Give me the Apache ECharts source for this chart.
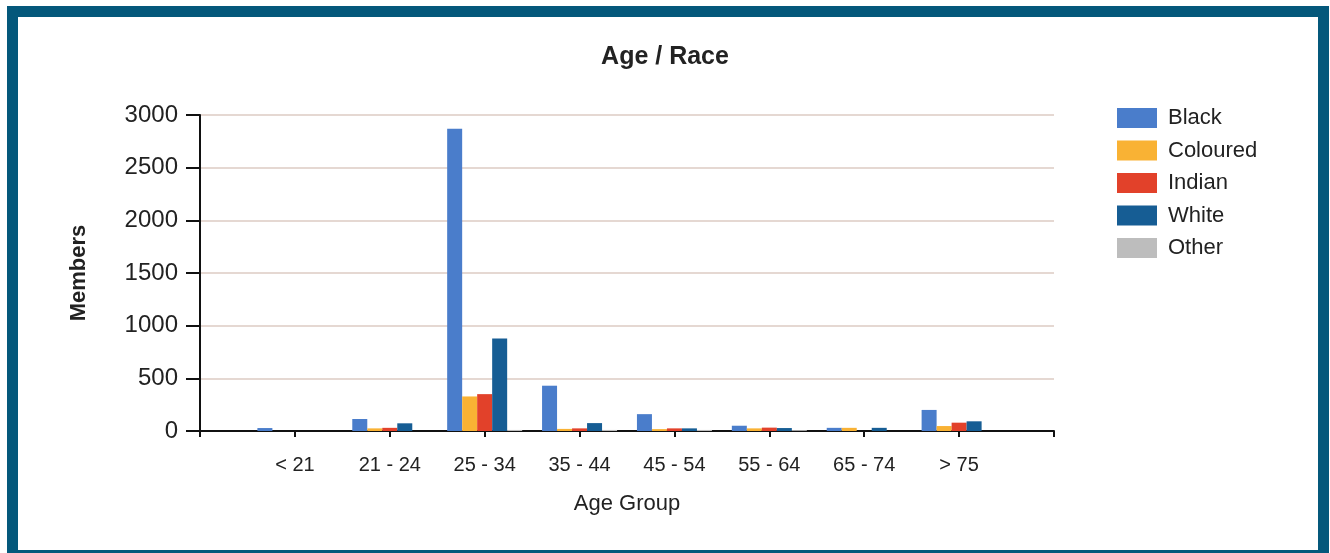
<!DOCTYPE html>
<html>
<head>
<meta charset="utf-8">
<script src="https://cdn.jsdelivr.net/npm/echarts@6/dist/echarts.min.js"></script>
<style>
  html, body { margin: 0; padding: 0; background: #ffffff; }
  #wrap { position: relative; width: 1330px; height: 553px; overflow: hidden; }
  #chart { position: absolute; left: 0; top: 0; width: 1330px; height: 553px; }
  #frame {
    position: absolute; left: 7px; top: 6px; width: 1300px; height: 533px;
    border: 11px solid #04587b; pointer-events: none;
  }
</style>
</head>
<body>
<div id="wrap">
  <div id="chart"></div>
  <div id="frame"></div>
</div>
<script>
// Age groups shown on the x axis
const ageGroups = ['< 21', '21 - 24', '25 - 34', '35 - 44', '45 - 54', '55 - 64', '65 - 74', '> 75'];

// Members per race, one value per age group
const black    = [28, 114, 2870, 430, 160, 50, 30, 200];
const coloured = [0, 25, 328, 20, 18, 25, 30, 47];
const indian   = [0, 30, 350, 25, 25, 32, 0, 79];
const white    = [0, 73, 877, 75, 25, 28, 30, 92];
const other    = [0, 0, 10, 10, 10, 8, 0, 0];

const yTicks = [0, 500, 1000, 1500, 2000, 2500, 3000];

const raceNames  = ['Black', 'Coloured', 'Indian', 'White', 'Other'];
const raceValues = [black, coloured, indian, white, other];
const raceColors = ['#4a7dcb', '#f9b234', '#e2412a', '#165d94', '#bdbdbd'];

// empty slots at both ends leave a blank step before the first and after the last group
const axisCats = [''].concat(ageGroups, ['']);
const pad = v => [null].concat(v, [null]);

const font = '"Liberation Sans", Arial, sans-serif';

const chart = echarts.init(document.getElementById('chart'), null, { renderer: 'canvas' });
chart.setOption({
  animation: false,
  backgroundColor: '#ffffff',
  title: {
    text: 'Age / Race',
    left: 'center',
    top: 40,
    textStyle: { fontFamily: font, fontSize: 25, fontWeight: 'bold', color: '#222222' }
  },
  legend: {
    orient: 'vertical',
    left: 1112,
    top: 102,
    itemWidth: 40,
    itemHeight: 20,
    itemGap: 10.5,
    icon: 'rect',
    data: raceNames,
    textStyle: { fontFamily: font, fontSize: 22, lineHeight: 22, color: '#222222', padding: [0, 0, 0, 6] }
  },
  grid: { left: 200, right: 276, top: 115, bottom: 122, containLabel: false },
  xAxis: {
    type: 'category',
    data: axisCats,
    boundaryGap: false,
    name: 'Age Group',
    nameLocation: 'middle',
    nameGap: 62,
    nameTextStyle: { fontFamily: font, fontSize: 22, color: '#222222' },
    axisLine: { lineStyle: { color: '#111111', width: 2 } },
    axisTick: { show: true, length: 6, lineStyle: { color: '#111111', width: 2 } },
    axisLabel: { fontFamily: font, fontSize: 20, color: '#222222', margin: 24, interval: 0 },
    splitLine: { show: false }
  },
  yAxis: {
    type: 'value',
    min: yTicks[0],
    max: yTicks[yTicks.length - 1],
    interval: yTicks[1] - yTicks[0],
    name: 'Members',
    nameLocation: 'middle',
    nameGap: 110,
    nameRotate: 90,
    nameTextStyle: { fontFamily: font, fontSize: 22, fontWeight: 'bold', color: '#222222' },
    axisLine: { show: true, lineStyle: { color: '#111111', width: 2 } },
    axisTick: { show: true, length: 14, lineStyle: { color: '#111111', width: 2 } },
    axisLabel: { fontFamily: font, fontSize: 24, color: '#222222', margin: 22, formatter: v => String(v) },
    splitLine: { show: true, lineStyle: { color: '#e5d8d2', width: 2 } }
  },
  series: raceNames.map((name, i) => ({
    name: name,
    type: 'bar',
    data: pad(raceValues[i]),
    barWidth: 15,
    barGap: '0%',
    itemStyle: { color: raceColors[i] }
  }))
});
</script>
</body>
</html>
